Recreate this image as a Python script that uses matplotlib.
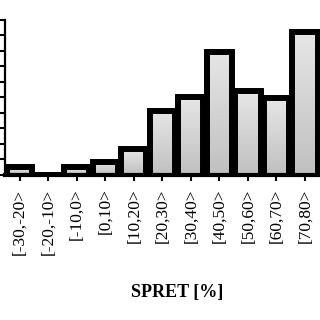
import numpy as np
import matplotlib
matplotlib.use('Agg')
import matplotlib.pyplot as plt
from matplotlib.colors import LinearSegmentedColormap

# SPRET ranges and share of cases
categories = ['[-30,-20>', '[-20,-10>', '[-10,0>', '[0,10>', '[10,20>', '[20,30>',
              '[30,40>', '[40,50>', '[50,60>', '[60,70>', '[70,80>']
values = [1.0, 0.0, 1.0, 1.6, 3.3, 8.25, 10.0, 15.8, 10.85, 9.9, 18.4]

plt.rcParams['font.family'] = ['Liberation Serif', 'DejaVu Serif']

fig = plt.figure(figsize=(3.2, 3.2), dpi=100)
# axes runs off the right edge, like the cropped original
ax = fig.add_axes([5 / 320, 145.3 / 320, 328.5 / 320, 154.7 / 320])

x = np.arange(len(categories))
w = 0.88
# bars start below the axis so their bottom outline is hidden under the spine
base = 1.0
bars = ax.bar(x, np.array(values) + base, bottom=-base, width=w, color='none',
              edgecolor='black', linewidth=4.3, zorder=3)

# grey gradient inside each bar
grey = LinearSegmentedColormap.from_list('grey', ['#c0c0c0', '#e6e6e6'])
grad = np.linspace(0, 1, 100).reshape(-1, 1)
for b, v in zip(bars, values):
    if v <= 0:
        continue
    im = ax.imshow(grad, extent=[b.get_x(), b.get_x() + b.get_width(), 0, v],
                   origin='lower', aspect='auto', cmap=grey, zorder=2)
    im.set_clip_path(b)

ax.set_xlim(-0.52, 11)
ax.set_ylim(0, 20)
ax.set_yticks(np.arange(0, 21, 2))
ax.set_xticks(x)
ax.set_xticklabels(categories, rotation=90, fontsize=12.5)

ax.spines['top'].set_visible(False)
ax.spines['right'].set_visible(False)
ax.spines['bottom'].set_linewidth(3)
ax.spines['bottom'].set_zorder(4)
ax.spines['left'].set_linewidth(1.6)
ax.tick_params(axis='x', length=4, width=1.5, pad=6)
ax.tick_params(axis='y', length=6, width=1.5, labelleft=False)

fig.text(177 / 320, 1 - 292 / 320, 'SPRET [%]', ha='center', va='center',
         fontsize=13, fontweight='bold')

fig.savefig('out.png', dpi=100)
